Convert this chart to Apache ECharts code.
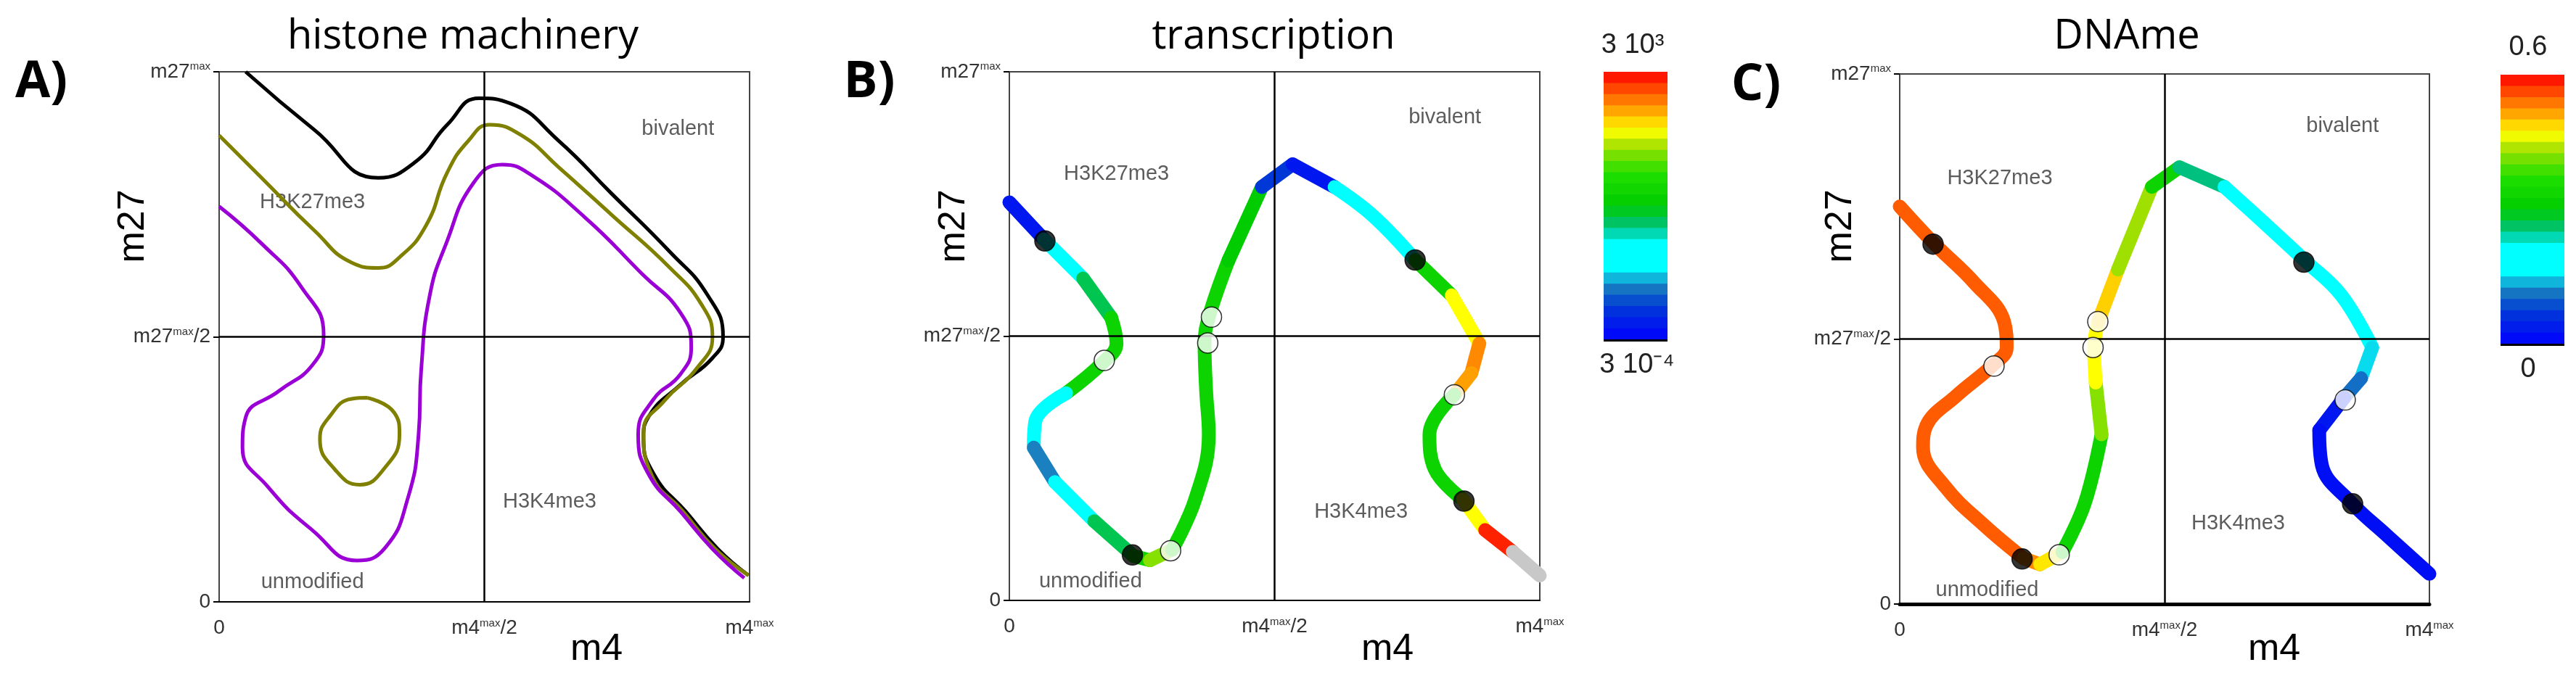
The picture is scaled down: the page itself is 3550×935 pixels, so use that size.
<!DOCTYPE html>
<html>
<head>
<meta charset="utf-8">
<script src="https://cdn.jsdelivr.net/npm/echarts@6/dist/echarts.min.js"></script>
<style>html,body{margin:0;padding:0;background:#fff}#main{width:3550px;height:935px}</style>
</head>
<body>
<div id="main"></div>
<script>
// panel A curves, normalised (m4/m4max, m27/m27max)
const blackCurve = [[0.05,1.0],[0.18,0.89],[0.30,0.80],[0.37,0.83],[0.43,0.90],[0.49,0.95],[0.55,0.94],[0.64,0.87],[0.74,0.77],[0.85,0.66],[0.92,0.58],[0.95,0.50],[0.93,0.46],[0.87,0.41],[0.81,0.35],[0.80,0.31],[0.82,0.24],[0.88,0.17],[0.94,0.10],[0.998,0.05]];
const oliveCurve = [[0,0.88],[0.08,0.80],[0.18,0.70],[0.25,0.64],[0.30,0.63],[0.34,0.65],[0.39,0.71],[0.43,0.81],[0.47,0.87],[0.51,0.90],[0.57,0.88],[0.64,0.82],[0.74,0.73],[0.85,0.63],[0.91,0.56],[0.93,0.50],[0.90,0.44],[0.84,0.38],[0.80,0.32],[0.815,0.24],[0.875,0.17],[0.935,0.10],[0.998,0.05]];
const oliveLoop = [[0.28,0.385],[0.33,0.357],[0.34,0.316],[0.31,0.25],[0.265,0.221],[0.218,0.25],[0.19,0.307],[0.207,0.348],[0.25,0.383],[0.28,0.385]];
const purpleCurve = [[0,0.746],[0.08,0.676],[0.155,0.594],[0.197,0.504],[0.176,0.447],[0.113,0.398],[0.05,0.348],[0.044,0.291],[0.092,0.217],[0.176,0.135],[0.26,0.078],[0.313,0.102],[0.355,0.193],[0.376,0.316],[0.381,0.439],[0.397,0.578],[0.428,0.676],[0.48,0.791],[0.534,0.825],[0.586,0.807],[0.69,0.725],[0.797,0.619],[0.87,0.545],[0.89,0.48],[0.87,0.43],[0.818,0.381],[0.79,0.316],[0.81,0.24],[0.87,0.17],[0.93,0.10],[0.99,0.045]];

// panel B: trajectory and transcription level (0..1 on colour scale, -1 = grey)
const curveB = [[0,0.753],[0.065,0.683],[0.139,0.609],[0.192,0.535],[0.202,0.486],[0.175,0.449],[0.107,0.392],[0.049,0.339],[0.046,0.289],[0.086,0.224],[0.16,0.15],[0.234,0.084],[0.265,0.076],[0.307,0.096],[0.35,0.19],[0.376,0.314],[0.371,0.396],[0.368,0.486],[0.376,0.536],[0.413,0.643],[0.476,0.782],[0.534,0.825],[0.613,0.782],[0.686,0.727],[0.765,0.644],[0.834,0.577],[0.886,0.486],[0.871,0.43],[0.839,0.389],[0.792,0.314],[0.802,0.248],[0.855,0.191],[0.897,0.133],[0.949,0.092],[1.0,0.047]];
const levelB = [0.05,0.32,0.45,0.55,0.55,0.55,0.32,0.32,0.2,0.32,0.45,0.55,0.7,0.55,0.55,0.55,0.55,0.55,0.55,0.5,0.12,0.05,0.32,0.32,0.55,0.78,0.88,0.86,0.55,0.55,0.55,0.78,0.97,-1,-1];
const openB = [[0.179,0.454],[0.381,0.536],[0.374,0.487],[0.304,0.094],[0.839,0.389]];
const filledB = [[0.067,0.68],[0.232,0.086],[0.765,0.644],[0.857,0.188]];

// panel C: trajectory and DNA methylation level
const curveC = [[0,0.75],[0.065,0.68],[0.14,0.607],[0.197,0.533],[0.202,0.484],[0.176,0.451],[0.107,0.393],[0.05,0.336],[0.044,0.295],[0.086,0.221],[0.16,0.148],[0.234,0.086],[0.265,0.075],[0.307,0.098],[0.349,0.189],[0.381,0.32],[0.37,0.418],[0.367,0.484],[0.375,0.533],[0.412,0.631],[0.476,0.787],[0.528,0.824],[0.613,0.787],[0.686,0.721],[0.765,0.648],[0.834,0.582],[0.892,0.484],[0.871,0.426],[0.839,0.389],[0.792,0.328],[0.797,0.262],[0.855,0.189],[0.918,0.131],[1.0,0.057]];
const levelC = [0.92,0.92,0.92,0.92,0.92,0.92,0.92,0.92,0.92,0.92,0.92,0.88,0.8,0.55,0.55,0.7,0.78,0.78,0.82,0.72,0.55,0.42,0.32,0.32,0.32,0.32,0.25,0.18,0.05,0.03,0.03,0.03,0.03,0.03];
const openC = [[0.178,0.449],[0.374,0.533],[0.365,0.484],[0.301,0.093],[0.841,0.385]];
const filledC = [[0.063,0.679],[0.231,0.085],[0.763,0.645],[0.855,0.189]];

const xTicks = ['0', '{b|m4}{s|max}{b|/2}', '{b|m4}{s|max}'];
const yTicks = ['0', '{b|m27}{s|max}{b|/2}', '{b|m27}{s|max}'];
const regionLabels = ['bivalent', 'H3K27me3', 'H3K4me3', 'unmodified'];
const regionPosA = [[0.865,0.892],[0.176,0.754],[0.623,0.189],[0.176,0.037]];
const regionPosB = [[0.821,0.914],[0.202,0.807],[0.663,0.168],[0.153,0.035]];
const regionPosC = [[0.836,0.902],[0.189,0.803],[0.639,0.152],[0.165,0.026]];

// colour scale used by the figure (blue - cyan - green - yellow - red)
const scaleStops = [[0,'#0000ff'],[0.12,'#0038d8'],[0.2,'#1a80bf'],[0.27,'#00ffff'],[0.36,'#00ffff'],[0.42,'#00c080'],[0.5,'#00cc00'],[0.62,'#20e000'],[0.72,'#a0e000'],[0.78,'#ffff00'],[0.86,'#ffa000'],[0.93,'#ff5000'],[1,'#ff0000']];
function hex(c) { return [1, 3, 5].map(i => parseInt(c.slice(i, i + 2), 16)); }
function scaleColor(v) {
    if (v < 0) return '#c8c8c8';
    for (let i = 1; i < scaleStops.length; i++) {
        if (v <= scaleStops[i][0]) {
            const [v0, c0] = scaleStops[i - 1], [v1, c1] = scaleStops[i];
            const t = (v - v0) / (v1 - v0), a = hex(c0), b = hex(c1);
            return 'rgb(' + a.map((x, k) => Math.round(x + (b[k] - x) * t)).join(',') + ')';
        }
    }
    return '#ff0000';
}

const grids = [
    { left: 302, top: 99, width: 731, height: 731 },
    { left: 1391, top: 99, width: 731, height: 729 },
    { left: 2618, top: 102, width: 730, height: 731 },
];
const rich = { b: { fontSize: 28, fontFamily: 'Liberation Sans', color: '#333' }, s: { fontSize: 15, verticalAlign: 'top', padding: [0, 0, 14, 0], fontFamily: 'Liberation Sans', color: '#333' } };

const option = { animation: false, grid: [], xAxis: [], yAxis: [], series: [], graphic: [] };
grids.forEach((g, i) => {
    option.grid.push({ ...g, show: true, borderColor: '#444', borderWidth: 2 });
    option.xAxis.push({ gridIndex: i, min: 0, max: 1, interval: 0.5, axisLine: { lineStyle: { color: '#000', width: i == 2 ? 5 : 2 } }, axisTick: { show: false }, splitLine: { show: false },
        axisLabel: { margin: 22, fontSize: 28, color: '#333', fontFamily: 'Liberation Sans', rich, formatter: v => xTicks[Math.round(v * 2)] } });
    option.yAxis.push({ gridIndex: i, min: 0, max: 1, interval: 0.5, axisLine: { show: false }, axisTick: { show: true, length: 8, lineStyle: { color: '#000', width: 2 } }, splitLine: { show: false },
        axisLabel: { margin: 12, fontSize: 28, color: '#333', fontFamily: 'Liberation Sans', rich, formatter: v => yTicks[Math.round(v * 2)] } });
    const regPos = [regionPosA, regionPosB, regionPosC][i];
    option.series.push({ type: 'scatter', xAxisIndex: i, yAxisIndex: i, symbolSize: 0, silent: true, z: 1,
        data: regPos.map((p, k) => ({ value: p, label: { show: true, formatter: regionLabels[k], position: 'inside', fontSize: 29, color: '#333', fontFamily: 'Liberation Sans' } })),
        markLine: { symbol: 'none', silent: true, label: { show: false }, lineStyle: { color: '#000', width: 2.5, type: 'solid' }, data: [{ xAxis: 0.5 }, { yAxis: 0.5 }] } });
});

function thin(data, color, idx) {
    option.series.push({ type: 'line', xAxisIndex: idx, yAxisIndex: idx, data, smooth: 0.5, showSymbol: false, lineStyle: { color, width: 5 }, z: 3 });
}
thin(blackCurve, '#000000', 0);
thin(oliveCurve, '#7f7f00', 0);
thin(oliveLoop, '#7f7f00', 0);
thin(purpleCurve, '#9a00d6', 0);

function colouredPath(pts, lev, idx) {
    let s = 0;
    for (let i = 1; i < pts.length; i++) {
        if (i == pts.length - 1 || lev[i] !== lev[s]) {
            option.series.push({ type: 'line', xAxisIndex: idx, yAxisIndex: idx, data: pts.slice(s, i + 1), smooth: 0.4, showSymbol: false,
                lineStyle: { color: scaleColor(lev[s]), width: 19, cap: 'round', join: 'round' }, z: 3 });
            s = i;
        }
    }
}
colouredPath(curveB, levelB, 1);
colouredPath(curveC, levelC, 2);
function dots(data, fill, idx) {
    option.series.push({ type: 'scatter', xAxisIndex: idx, yAxisIndex: idx, data, symbolSize: 28, z: 5,
        itemStyle: { color: fill, borderColor: '#000', borderWidth: 1.5 } });
}
dots(openB, '#fff', 1); dots(filledB, '#000', 1);
dots(openC, '#fff', 2); dots(filledC, '#000', 2);

const txt = (x, y, text, size, extra) => option.graphic.push({ type: 'text', x, y, style: { text, fontSize: size, fontFamily: 'Open Sans', fill: '#000', textAlign: 'center', textVerticalAlign: 'middle', ...extra } });
txt(638, 51, 'histone machinery', 56);
txt(1755, 51, 'transcription', 56);
txt(2931, 51, 'DNAme', 56);
txt(57, 114, 'A)', 70, { fontWeight: 'bold' });
txt(1198, 114, 'B)', 70, { fontWeight: 'bold' });
txt(2420, 118, 'C)', 70, { fontWeight: 'bold' });
[[822, 184], [1912, 1315], [3134, 2537]].forEach(([mx, my]) => {
    txt(mx, 896, 'm4', 52, { fontFamily: 'Liberation Sans' });
    option.graphic.push({ type: 'text', x: my, y: 312, rotation: Math.PI / 2, style: { text: 'm27', fontSize: 52, fontFamily: 'Liberation Sans', fill: '#000', textAlign: 'center', textVerticalAlign: 'middle' } });
});

// colour bars
[[2210, 99, 369], [3446, 103, 371]].forEach(([x, y, h]) => {
    const n = 24;
    for (let k = 0; k < n; k++) {
        option.graphic.push({ type: 'rect', shape: { x, y: y + h * k / n, width: 88, height: h / n + 1 }, style: { fill: scaleColor(1 - (k + 0.5) / n) } });
    }
    option.graphic.push({ type: 'rect', shape: { x, y: y + h, width: 88, height: 3 }, style: { fill: '#000' } });
});
txt(2250, 63, '3 10³', 38, { fontFamily: 'Liberation Sans', fill: '#222' });
txt(2256, 504, '3 10⁻⁴', 38, { fontFamily: 'Liberation Sans', fill: '#222' });
txt(3484, 66, '0.6', 38, { fontFamily: 'Liberation Sans', fill: '#222' });
txt(3484, 510, '0', 38, { fontFamily: 'Liberation Sans', fill: '#222' });

const chart = echarts.init(document.getElementById('main'));
chart.setOption(option);
</script>
</body>
</html>
